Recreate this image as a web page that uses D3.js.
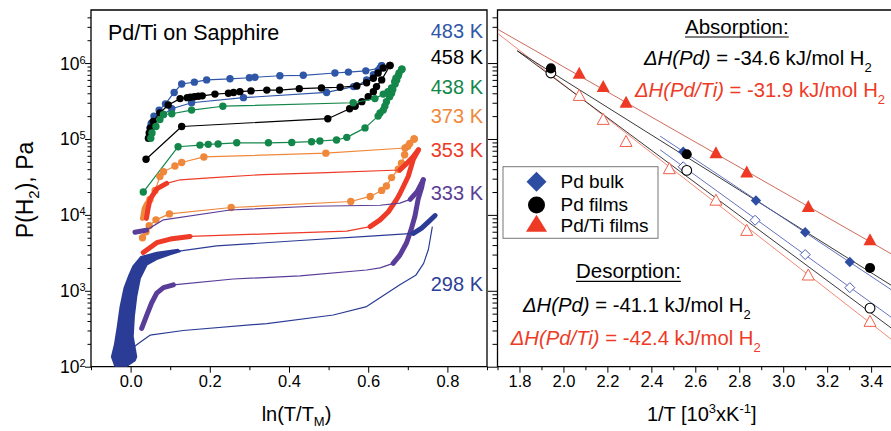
<!DOCTYPE html>
<html><head><meta charset="utf-8">
<script src="https://cdn.jsdelivr.net/npm/d3@7"></script>
<style>
body{margin:0;background:#fff}
svg{display:block}
text{font-family:"Liberation Sans",Arial,Helvetica,sans-serif}
</style>
</head><body>
<svg id="c" width="891" height="431"></svg>
<script>
// ---------------- DATA ----------------
// Left panel: isotherms, [ln(T/TM), P(Pa)]
const abs483 = [[0.049,1.39e5],[0.052,1.6e5],[0.059,2.0e5],[0.072,2.4e5],[0.088,2.9e5],[0.11,4.1e5],[0.129,5.3e5],[0.161,5.6e5],[0.192,6.0e5],[0.251,6.2e5],[0.30,6.4e5],[0.314,6.5e5],[0.377,6.8e5],[0.436,6.9e5],[0.516,7.4e5],[0.55,7.6e5],[0.594,7.9e5],[0.63,8.6e5],[0.634,9.2e5]];
const des483 = [[0.634,9.2e5],[0.625,8.0e5],[0.613,7.0e5],[0.596,6.0e5],[0.571,5.0e5],[0.563,4.9e5],[0.495,4.1e5],[0.285,3.5e5],[0.154,3.0e5],[0.104,2.5e5],[0.083,2.1e5],[0.052,1.5e5]];
const abs458 = [[0.045,1.02e5],[0.047,1.2e5],[0.05,1.4e5],[0.057,1.7e5],[0.074,2.2e5],[0.095,2.8e5],[0.125,3.4e5],[0.143,3.5e5],[0.151,3.55e5],[0.161,3.6e5],[0.171,3.65e5],[0.181,3.7e5],[0.213,3.9e5],[0.247,4.0e5],[0.26,4.1e5],[0.276,4.2e5],[0.304,4.3e5],[0.344,4.4e5],[0.376,4.4e5],[0.426,4.6e5],[0.482,4.7e5],[0.529,4.8e5],[0.571,5.0e5],[0.596,5.5e5],[0.613,6.3e5],[0.625,7.4e5],[0.638,8.6e5],[0.655,9.3e5]];
const des458 = [[0.655,9.3e5],[0.634,6.0e5],[0.621,4.9e5],[0.613,4.2e5],[0.60,3.6e5],[0.584,3.1e5],[0.567,2.7e5],[0.553,2.5e5],[0.498,1.85e5],[0.129,1.46e5],[0.039,5.4e4]];
const abs438 = [[0.051,1.02e5],[0.054,1.2e5],[0.064,1.46e5],[0.074,1.8e5],[0.083,2.1e5],[0.104,2.15e5],[0.154,2.4e5],[0.233,2.7e5],[0.562,3.0e5],[0.617,3.4e5],[0.638,3.9e5],[0.65,4.2e5],[0.659,4.7e5],[0.667,5.7e5],[0.67,6.3e5],[0.678,7.4e5],[0.685,8.3e5]];
const des438 = [[0.685,8.3e5],[0.676,6.8e5],[0.672,6.0e5],[0.668,5.3e5],[0.662,4.5e5],[0.659,4.0e5],[0.654,3.6e5],[0.646,3.1e5],[0.642,2.7e5],[0.638,2.4e5],[0.63,2.2e5],[0.625,2.0e5],[0.592,1.4e5],[0.546,1.05e5],[0.52,9.7e4],[0.478,9.4e4],[0.457,9.2e4],[0.407,9.0e4],[0.348,8.9e4],[0.268,8.9e4],[0.221,8.6e4],[0.196,8.5e4],[0.175,8.3e4],[0.12,7.9e4],[0.032,2.0e4]];
const abs373 = [[0.03,9.0e3],[0.034,1.2e4],[0.04,1.4e4],[0.049,1.6e4],[0.062,2.1e4],[0.074,3.2e4],[0.083,3.7e4],[0.112,4.4e4],[0.129,4.9e4],[0.185,5.8e4],[0.493,6.5e4],[0.693,7.6e4],[0.705,8.7e4],[0.716,1.0e5]];
const des373 = [[0.716,1.0e5],[0.70,8.0e4],[0.692,6.2e4],[0.684,4.8e4],[0.676,4.0e4],[0.659,3.1e4],[0.646,2.4e4],[0.634,2.1e4],[0.605,1.75e4],[0.556,1.5e4],[0.254,1.25e4],[0.098,1.03e4],[0.064,8.6e3],[0.047,7.2e3],[0.039,6.0e3],[0.03,5.0e3]];
const abs353 = [[0.04,9.0e3],[0.044,1.2e4],[0.049,1.6e4],[0.066,2.2e4],[0.091,2.6e4],[0.125,2.9e4],[0.209,3.1e4],[0.335,3.4e4],[0.495,3.6e4],[0.68,3.9e4],[0.698,4.8e4],[0.714,5.9e4],[0.727,7.2e4]];
const des353 = [[0.727,7.2e4],[0.714,5.4e4],[0.701,3.2e4],[0.68,1.9e4],[0.672,1.6e4],[0.651,1.1e4],[0.63,8.6e3],[0.605,7.0e3],[0.546,6.1e3],[0.377,5.7e3],[0.15,5.2e3],[0.10,4.8e3],[0.066,4.3e3],[0.032,3.2e3]];
const abs333 = [[0.011,5.9e3],[0.04,6.3e3],[0.083,8.6e3],[0.251,1.16e4],[0.461,1.3e4],[0.63,1.34e4],[0.68,1.43e4],[0.706,1.6e4],[0.723,2.0e4],[0.739,2.9e4]];
const des333 = [[0.739,2.9e4],[0.735,2.3e4],[0.726,1.6e4],[0.718,9.6e3],[0.708,6.3e3],[0.697,4.3e3],[0.68,2.95e3],[0.663,2.3e3],[0.63,2.0e3],[0.596,1.88e3],[0.428,1.57e3],[0.259,1.43e3],[0.108,1.2e3],[0.083,1.1e3],[0.066,9.3e2],[0.053,6.9e2],[0.041,4.8e2],[0.028,3.2e2]];
const band298 = [[-0.039,1.0e2],[-0.048,1.35e2],[-0.04,2.0e2],[-0.033,3.4e2],[-0.026,6.2e2],[-0.016,1.1e3],[-0.004,1.6e3],[0.006,2.1e3],[0.026,2.8e3],[0.066,3.2e3],[0.12,3.5e3],[0.125,3.3e3],[0.10,3.0e3],[0.066,2.6e3],[0.041,2.2e3],[0.024,1.45e3],[0.015,8.4e2],[0.009,4.6e2],[0.006,2.5e2],[0.015,1.35e2],[0.011,1.2e2],[-0.018,0.95e2]];
const abs298 = [[0.10,3.2e3],[0.217,3.9e3],[0.428,4.6e3],[0.596,5.2e3],[0.714,5.7e3],[0.735,6.7e3],[0.752,8.1e3],[0.769,9.8e3]];
const des298 = [[0.762,7.0e3],[0.752,3.5e3],[0.74,2.3e3],[0.72,1.6e3],[0.68,1.2e3],[0.596,6.2e2],[0.512,4.8e2],[0.344,3.7e2],[0.133,3.0e2],[0.049,2.6e2],[0.024,2.1e2],[-0.002,1.66e2]];
const tempLabels = ["483 K","458 K","438 K","373 K","353 K","333 K","298 K"];

// Right panel: van't Hoff data, [1000/T, P(Pa)]
const pdBulkAbs = [[2.545,6.8e4],[2.876,1.55e4],[3.10,5.9e3],[3.303,2.4e3]];
const pdBulkDes = [[2.545,4.3e4],[2.872,8.5e3],[3.10,3.0e3],[3.303,1.1e3]];
const pdFilmAbs = [[1.943,8.5e5],[2.561,6.3e4],[3.395,2.0e3]];
const pdFilmDes = [[1.943,7.4e5],[2.561,3.85e4],[3.395,5.9e2]];
const pdTiAbs = [[2.072,7.0e5],[2.181,4.7e5],[2.285,2.9e5],[2.694,6.3e4],[2.834,3.5e4],[3.114,1.23e4],[3.395,4.5e3]];
const pdTiDes = [[2.072,3.6e5],[2.181,1.74e5],[2.285,8.9e4],[2.482,3.9e4],[2.694,1.5e4],[2.834,6.0e3],[3.114,1.55e3],[3.395,3.8e2]];
const fitPdTiAbs = [[1.7,2.8e6],[3.5,2.97e3]];
const fitPdTiDes = [[1.7,2.47e6],[3.5,2.2e2]];
const fitPdAbs = [[1.79,1.45e6],[3.5,1.14e3]];
const fitPdDes = [[1.79,1.45e6],[3.5,3.1e2]];
const fitBulkAbs = [[2.44,1.09e5],[3.5,9.95e2]];
const fitBulkDes = [[2.44,7.2e4],[3.5,4.3e2]];
const legendLabels = ["Pd bulk","Pd films","Pd/Ti films"];

// Tick labels
const xTicksL = [0.0,0.2,0.4,0.6,0.8];
const xMinorL = [-0.1,0.1,0.3,0.5,0.7,0.9];
const xTicksR = [1.8,2.0,2.2,2.4,2.6,2.8,3.0,3.2,3.4];
const xMinorR = [1.7,1.9,2.1,2.3,2.5,2.7,2.9,3.1,3.3,3.5];
const yDecades = [1e2,1e3,1e4,1e5,1e6];
const yExponents = ["2","3","4","5","6"];

// ---------------- LAYOUT ----------------
const svg = d3.select('#c');
const X0 = 91, X1 = 487, XR0 = 497.5, XR1 = 893.1, YT = 10, YB = 366.7;
const xL = d3.scaleLinear().domain([-0.1, 0.9]).range([X0, X1]);
const xR = d3.scaleLinear().domain([1.7, 3.5]).range([XR0, XR1]);
const y = d3.scaleLog().domain([100, 5e6]).range([YB, YT]);
const yMinor = y.ticks().filter(v => !yDecades.includes(v) && v < 5e6);

const defs = svg.append('defs');
defs.append('clipPath').attr('id','clipL').append('rect').attr('x',X0).attr('y',YT).attr('width',X1-X0).attr('height',YB-YT);
defs.append('clipPath').attr('id','clipR').append('rect').attr('x',XR0).attr('y',YT).attr('width',XR1-XR0).attr('height',YB-YT);

function styleAxis(g, fs){
  g.select('.domain').remove();
  g.selectAll('line').attr('stroke','#000').attr('stroke-width',1);
  g.selectAll('text').style('font-size',fs).attr('fill','#000').style('font-family','"Liberation Sans",Arial,sans-serif');
}
// Left x axis
svg.append('g').attr('transform',`translate(0,${YB})`)
  .call(d3.axisBottom(xL).tickValues(xTicksL).tickSize(6).tickPadding(3).tickFormat(d3.format('.1f')))
  .call(g=>styleAxis(g,'16.5px'));
svg.append('g').attr('transform',`translate(0,${YB})`)
  .call(d3.axisBottom(xL).tickValues(xMinorL).tickSize(3.5).tickFormat(''))
  .call(g=>styleAxis(g,'16px'));
// Right x axis
svg.append('g').attr('transform',`translate(0,${YB})`)
  .call(d3.axisBottom(xR).tickValues(xTicksR).tickSize(6).tickPadding(3).tickFormat(d3.format('.1f')))
  .call(g=>styleAxis(g,'16.5px'));
svg.append('g').attr('transform',`translate(0,${YB})`)
  .call(d3.axisBottom(xR).tickValues(xMinorR).tickSize(3.5).tickFormat(''))
  .call(g=>styleAxis(g,'16px'));
// Left y axis
svg.append('g').attr('transform',`translate(${X0},0)`)
  .call(d3.axisLeft(y).tickValues(yDecades).tickSize(6).tickFormat(''))
  .call(g=>styleAxis(g,'16px'));
svg.append('g').attr('transform',`translate(${X0},0)`)
  .call(d3.axisLeft(y).tickValues(yMinor).tickSize(3.5).tickFormat(''))
  .call(g=>styleAxis(g,'16px'));
// Right y axis (no labels)
svg.append('g').attr('transform',`translate(${XR0},0)`)
  .call(d3.axisLeft(y).tickValues(yDecades).tickSize(9.5).tickFormat(''))
  .call(g=>styleAxis(g,'16px'));
svg.append('g').attr('transform',`translate(${XR0},0)`)
  .call(d3.axisLeft(y).tickValues(yMinor).tickSize(5).tickFormat(''))
  .call(g=>styleAxis(g,'16px'));
// y labels 10^n
yDecades.forEach((d,i)=>{
  const t = svg.append('text').attr('x',X0-5.5).attr('y',y(d)+6.5).attr('text-anchor','end').style('font-size','17.5px');
  t.append('tspan').text('10');
  t.append('tspan').attr('dy',-6).style('font-size','11px').text(yExponents[i]);
});

// frames
const fr = svg.append('g').attr('stroke','#000').attr('stroke-width',1.3).attr('fill','none');
fr.append('path').attr('d',`M${X0},${YB}V${YT}H${X1}V${YB}Z`);
fr.append('path').attr('d',`M${XR1},${YB}H${XR0}V${YT}H${XR1}`);

// ---------------- LEFT PANEL ----------------
const gl = svg.append('g').attr('clip-path','url(#clipL)');
const lineL = d3.line().x(d=>xL(d[0])).y(d=>y(d[1]));
const leftSeries = [
  {data:[abs483,des483], color:'#2f57a8', dots:true},
  {data:[abs458,des458], color:'#000000', dots:true},
  {data:[abs438,des438], color:'#13874a', dots:true},
  {data:[abs373,des373], color:'#f0883c', dots:true, thick:[[[0,3]],[]], dotFrom:[3,0]},
  {data:[abs353,des353], color:'#ee3a26', dots:false, thick:[[[0,4],[9,12]],[[0,7],[10,13]]]},
  {data:[abs333,des333], color:'#5a3d98', dots:false, thick:[[[0,1],[7,9]],[[0,7],[12,17]]]},
  {data:[abs298,des298], color:'#2b3c96', dots:false, thick:[[[4,7]],[]], band:band298},
];
leftSeries.forEach(s=>{
  if(s.band){
    gl.append('path').attr('d', lineL(s.band)+'Z').attr('fill',s.color).attr('stroke',s.color).attr('stroke-width',1.5).attr('stroke-linejoin','round');
  }
  s.data.forEach((arr,k)=>{
    gl.append('path').attr('d',lineL(arr)).attr('fill','none').attr('stroke',s.color).attr('stroke-width',1.2).attr('stroke-linejoin','round');
    if(s.thick){
      s.thick[k].forEach(([a,b])=>{
        gl.append('path').attr('d',lineL(arr.slice(a,b+1))).attr('fill','none').attr('stroke',s.color)
          .attr('stroke-width',5).attr('stroke-linejoin','round').attr('stroke-linecap','round');
      });
    }
    if(s.dots){
      const from = s.dotFrom ? s.dotFrom[k] : 0;
      gl.selectAll(null).data(arr.slice(from)).enter().append('circle')
        .attr('cx',d=>xL(d[0])).attr('cy',d=>y(d[1])).attr('r',3.7).attr('fill',s.color);
    }
  });
});
// temperature labels
const tempColors = ['#2f57a8','#000000','#13874a','#f0883c','#ee3a26','#5a3d98','#2e3f99'];
const tempBase = [38.3,64,94,123.3,157,200,291];
tempLabels.forEach((t,i)=>{
  svg.append('text').attr('x',483).attr('y',tempBase[i]).attr('text-anchor','end')
    .style('font-size','20px').attr('fill',tempColors[i]).text(t);
});
svg.append('text').attr('x',108).attr('y',40).style('font-size','21.5px').text('Pd/Ti on Sapphire');

// ---------------- RIGHT PANEL ----------------
const gr = svg.append('g').attr('clip-path','url(#clipR)');
const lineR = d3.line().x(d=>xR(d[0])).y(d=>y(d[1]));
[[fitPdTiAbs,'#c85a48'],[fitPdTiDes,'#f27a68'],[fitPdAbs,'#222'],[fitPdDes,'#222'],[fitBulkAbs,'#5563b4'],[fitBulkDes,'#5563b4']]
  .forEach(([d,c])=>gr.append('path').attr('d',lineR(d)).attr('fill','none').attr('stroke',c).attr('stroke-width',0.9));

const diamond = h => `M0,${-h}L${h},0L0,${h}L${-h},0Z`;
const tri = (w,h) => `M0,${-2*h/3}L${w},${h/3}L${-w},${h/3}Z`;
function markers(data, path, fill, stroke, sw){
  gr.selectAll(null).data(data).enter().append('path')
    .attr('transform',d=>`translate(${xR(d[0])},${y(d[1])})`)
    .attr('d',path).attr('fill',fill).attr('stroke',stroke).attr('stroke-width',sw);
}
markers(pdTiDes, tri(6,11), '#fff', '#f0604a', 1);
markers(pdBulkDes, diamond(5), '#fff', '#4c5cb4', 1);
markers(pdFilmDes, d3.symbol(d3.symbolCircle, 75)(), '#fff', '#000', 1.1);
markers(pdTiAbs, tri(6.5,12), '#ee3a24', 'none', 0);
markers(pdBulkAbs, diamond(5.2), '#2c4da2', 'none', 0);
markers(pdFilmAbs, d3.symbol(d3.symbolCircle, 80)(), '#000', 'none', 0);

// legend
const lg = svg.append('g');
lg.append('rect').attr('x',503).attr('y',166.7).attr('width',155).attr('height',71.6).attr('fill','#fff').attr('stroke','#777').attr('stroke-width',1);
lg.append('path').attr('transform','translate(536.5,181.7)').attr('d',diamond(10)).attr('fill','#2c4da2');
lg.append('circle').attr('cx',536.5).attr('cy',205).attr('r',8.5).attr('fill','#000');
lg.append('path').attr('transform','translate(536.5,226)').attr('d',tri(10.5,17)).attr('fill','#ee3a24');
[188.3,211,232].forEach((b,i)=>lg.append('text').attr('x',560.5).attr('y',b).style('font-size','19px').text(legendLabels[i]));

// annotations
function heading(x, b, txt){
  const t = svg.append('text').attr('x',x).attr('y',b).style('font-size','20.5px').text(txt);
  const w = t.node().getComputedTextLength();
  svg.append('line').attr('x1',x).attr('x2',x+w).attr('y1',b+3).attr('y2',b+3).attr('stroke','#000').attr('stroke-width',1.2);
}
function dH(x, b, label, value, color){
  const t = svg.append('text').attr('x',x).attr('y',b).attr('fill',color).style('font-size','20.3px');
  t.append('tspan').style('font-style','italic').text('\u0394H(' + label + ')');
  t.append('tspan').text(' = ' + value + ' kJ/mol H');
  t.append('tspan').attr('dy',7).style('font-size','13px').text('2');
}
heading(685, 34, 'Absorption:');
dH(644, 65, 'Pd', '-34.6', '#000');
dH(635, 96.7, 'Pd/Ti', '-31.9', '#ee3a26');
heading(576, 278.3, 'Desorption:');
dH(523, 311.7, 'Pd', '-41.1', '#000');
dH(510.7, 345, 'Pd/Ti', '-42.4', '#ee3a26');

// axis titles
const xt = svg.append('text').attr('x',296.5).attr('y',421).attr('text-anchor','middle').style('font-size','20px');
xt.append('tspan').text('ln(T/T');
xt.append('tspan').attr('dy',5).style('font-size','13px').text('M');
xt.append('tspan').attr('dy',-5).text(')');
const xt2 = svg.append('text').attr('x',701.7).attr('y',421).attr('text-anchor','middle').style('font-size','20px');
xt2.append('tspan').text('1/T [10');
xt2.append('tspan').attr('dy',-8).style('font-size','13px').text('3');
xt2.append('tspan').attr('dy',8).text('xK');
xt2.append('tspan').attr('dy',-8).style('font-size','13px').text('-1');
xt2.append('tspan').attr('dy',8).text(']');
const yt = svg.append('text').attr('transform','translate(33,190) rotate(-90)').attr('text-anchor','middle').style('font-size','23px');
yt.append('tspan').text('P(H');
yt.append('tspan').attr('dy',6).style('font-size','15px').text('2');
yt.append('tspan').attr('dy',-6).text('), Pa');
</script>
</body></html>
